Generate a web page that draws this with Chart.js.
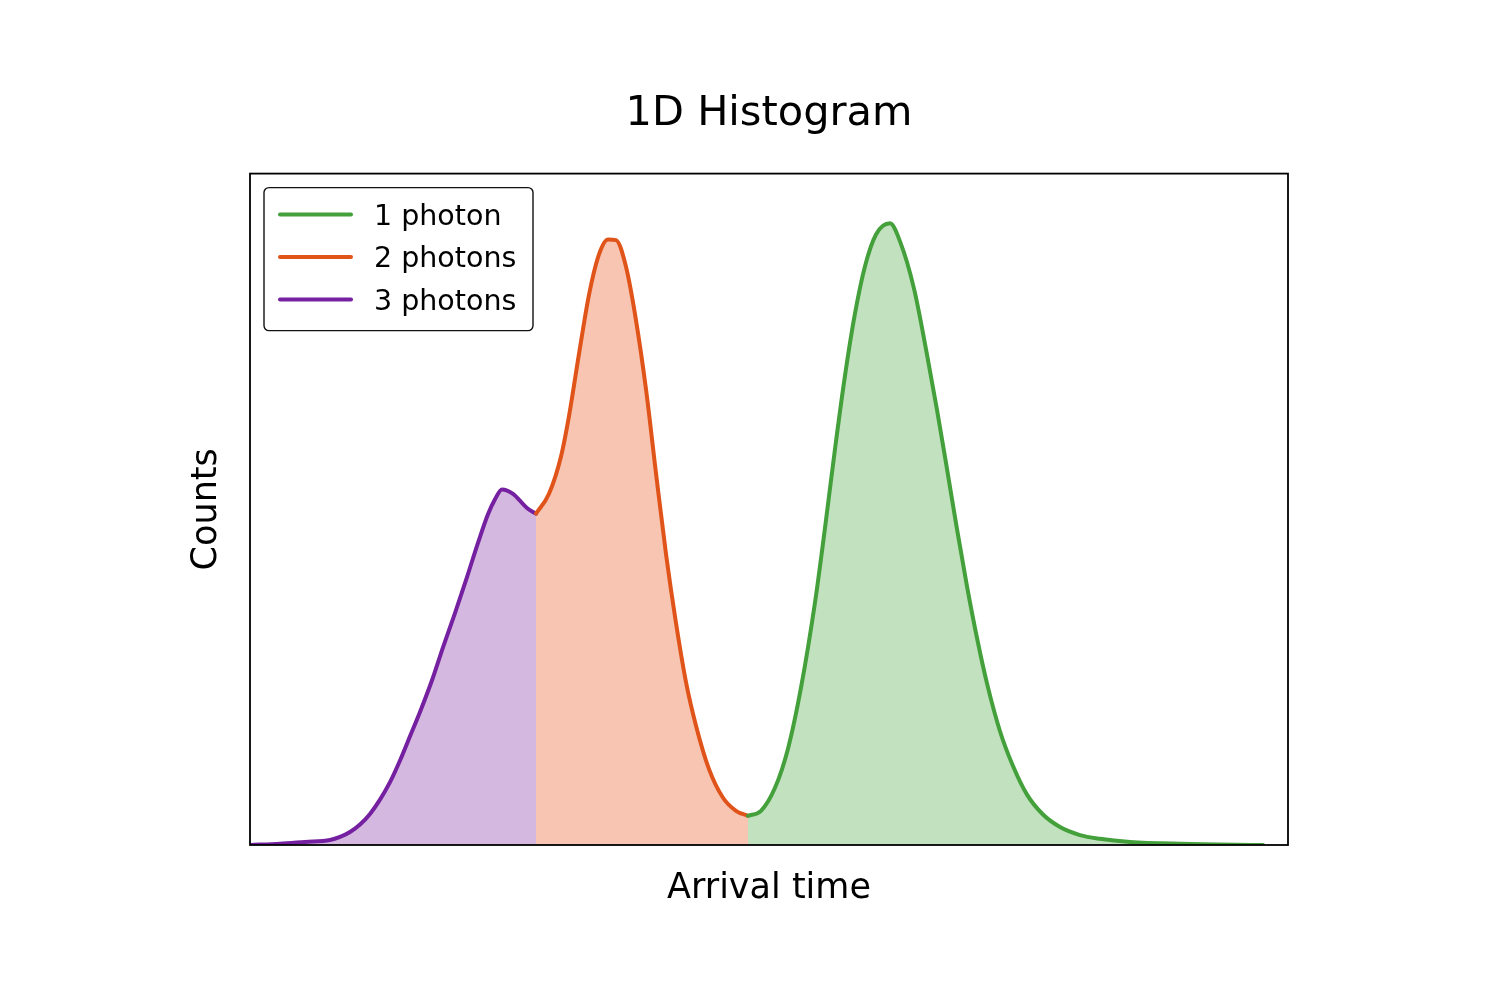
<!DOCTYPE html>
<html>
<head>
<meta charset="utf-8">
<title>1D Histogram</title>
<script src="https://cdn.jsdelivr.net/npm/chart.js@4"></script>
<style>
  body { margin: 0; background: #fff; }
</style>
</head>
<body>
<canvas id="histChart" width="1500" height="1000"></canvas>
<script>
// arrival time (arbitrary units) and counts for each photon-number region
var time3 = [0, 3, 5.5, 8, 9, 10, 11, 12, 13, 14, 15, 16, 17, 18.2, 19.3, 20.5, 21.7, 22.8, 23.8, 24.5, 25.2, 26.3, 27.7, 28.6];
var counts3 = [0, 2, 5, 8, 13, 21, 33, 50, 73, 101, 136, 175, 214, 265, 318, 373, 431, 486, 532, 556, 572, 565, 542, 533];

var time2 = [28.6, 29.9, 31.1, 31.9, 32.9, 33.9, 34.9, 35.8, 36.6, 37.6, 38.6, 39.6, 40.6, 41.6, 42.6, 43.6, 44.6, 45.9, 47.3, 48.6, 49.8];
var counts2 = [533, 565, 625, 690, 790, 885, 950, 974, 973, 930, 844, 733, 598, 468, 357, 262, 192, 122, 76, 55, 47];

var time1 = [49.8, 51.1, 52.5, 53.8, 55.1, 56.5, 57.5, 58.5, 59.5, 60.5, 61.5, 62.6, 64.0, 65.0, 66.4, 67.7, 68.7, 69.7, 70.7, 71.7, 72.7, 73.7, 75.0, 76.3, 77.7, 79.3, 81.0, 83.0, 85.0, 88.0, 93.0, 101.3];
var counts1 = [47, 55, 92, 155, 253, 390, 510, 637, 755, 855, 931, 982, 1000, 971, 895, 789, 700, 605, 508, 416, 333, 260, 183, 127, 81, 49, 29, 16, 10, 5, 2, 0];

var labels = ['1 photon', '2 photons', '3 photons'];

function toPoints(xs, ys) {
  return xs.map(function (x, i) { return { x: x, y: ys[i] }; });
}

var font = 'DejaVu Sans';

// black frame round the plot area
var framePlugin = {
  id: 'frame',
  afterDatasetsDraw: function (chart) {
    var a = chart.chartArea, c = chart.ctx;
    c.save();
    c.strokeStyle = '#000';
    c.lineWidth = 1.8;
    c.strokeRect(a.left, a.top, a.right - a.left, a.bottom - a.top);
    c.restore();
  }
};

// matplotlib-like legend box in the upper left corner
var boxLegend = {
  id: 'boxLegend',
  afterDraw: function (chart) {
    var a = chart.chartArea, c = chart.ctx;
    var x = a.left + 14, y = a.top + 14, w = 269, h = 143;
    c.save();
    c.beginPath();
    c.roundRect(x, y, w, h, 5);
    c.fillStyle = '#fff';
    c.fill();
    c.strokeStyle = '#111';
    c.lineWidth = 1.4;
    c.stroke();
    c.font = '28.5px "' + font + '"';
    c.textBaseline = 'middle';
    c.fillStyle = '#000';
    chart.data.datasets.forEach(function (ds, i) {
      var ly = y + 27 + i * 42.5;
      c.beginPath();
      c.moveTo(x + 16, ly);
      c.lineTo(x + 87, ly);
      c.strokeStyle = ds.borderColor;
      c.lineWidth = 4;
      c.lineCap = 'round';
      c.stroke();
      c.fillText(ds.label, x + 110, ly + 2.5);
    });
    c.restore();
  }
};

var ctx = document.getElementById('histChart').getContext('2d');
var histChart = new Chart(ctx, {
  type: 'line',
  data: {
    datasets: [{
      label: labels[0],
      data: toPoints(time1, counts1),
      borderColor: '#43a03a',
      backgroundColor: '#c2e1bf',
      fill: 'origin'
    }, {
      label: labels[1],
      data: toPoints(time2, counts2),
      borderColor: '#e05319',
      backgroundColor: '#f7c5b2',
      fill: 'origin'
    }, {
      label: labels[2],
      data: toPoints(time3, counts3),
      borderColor: '#7420a0',
      backgroundColor: '#d4b8e0',
      fill: 'origin'
    }]
  },
  options: {
    responsive: false,
    animation: false,
    layout: { autoPadding: false, padding: { top: 89, left: 182, right: 212, bottom: 86 } },
    elements: {
      line: { borderWidth: 4, cubicInterpolationMode: 'monotone', borderCapStyle: 'round', borderJoinStyle: 'round' },
      point: { radius: 0, hoverRadius: 0 }
    },
    plugins: {
      legend: { display: false },
      tooltip: { enabled: false },
      filler: { drawTime: 'beforeDatasetsDraw' },
      title: {
        display: true,
        text: '1D Histogram',
        fullSize: false,
        color: '#000',
        font: { family: font, size: 41.5, weight: 'normal' },
        padding: { top: 0, bottom: 34.8 }
      }
    },
    scales: {
      x: {
        type: 'linear',
        min: 0,
        max: 103.8,
        grid: { display: false, drawTicks: false },
        border: { display: false },
        ticks: { display: false },
        title: {
          display: true,
          text: 'Arrival time',
          color: '#000',
          font: { family: font, size: 35 },
          padding: { top: 23, bottom: 4 }
        }
      },
      y: {
        type: 'linear',
        min: 0,
        max: 1080,
        grid: { display: false, drawTicks: false },
        border: { display: false },
        ticks: { display: false },
        title: {
          display: true,
          text: 'Counts',
          color: '#000',
          font: { family: font, size: 35 },
          padding: { top: 4, bottom: 22 }
        }
      }
    }
  },
  plugins: [framePlugin, boxLegend]
});
</script>
</body>
</html>
